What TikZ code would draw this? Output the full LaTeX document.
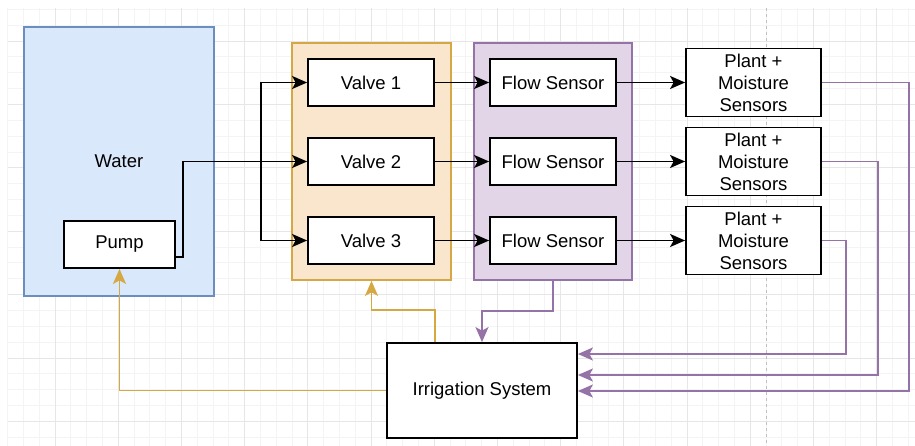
\documentclass[tikz,border=0pt]{standalone}
\usepackage{fontspec}
\setmainfont{Liberation Sans}
\usetikzlibrary{arrows.meta}
\definecolor{bluefill}{HTML}{DAE8FC}
\definecolor{bluedraw}{HTML}{6C8EBF}
\definecolor{orfill}{HTML}{FAE6CD}
\definecolor{ordraw}{HTML}{D6A843}
\definecolor{pufill}{HTML}{E1D5E7}
\definecolor{pudraw}{HTML}{9673A6}
\definecolor{gridminor}{HTML}{F4F4F4}
\definecolor{gridmajor}{HTML}{E6E6E6}
\tikzset{
  box/.style={draw=black, fill=white, line width=1.8pt, inner sep=0pt, align=center},
  container/.style={line width=1.7pt, inner sep=0pt},
  tip/.style={-{Stealth[length=15pt,width=13pt,inset=3.5pt]}},
  conn/.style={tip, line width=1.8pt, draw=black},
  pconn/.style={tip, line width=1.8pt, draw=pudraw},
  oconn/.style={tip, line width=1.8pt, draw=ordraw},
}
\begin{document}
\begin{tikzpicture}[x=1pt,y=-1pt,font=\fontsize{18.5}{22}\selectfont]
\useasboundingbox (0,0) rectangle (915,446);
% grid
\foreach \i in {0,...,57} {\draw[gridminor, line width=0.8pt] ({7.6+15.8*\i},8) -- ({7.6+15.8*\i},446);}
\foreach \j in {0,...,27} {\draw[gridminor, line width=0.8pt] (8,{9.3+15.85*\j}) -- (915,{9.3+15.85*\j});}
\foreach \i in {0,...,13} {\draw[gridmajor, line width=0.8pt] ({55+63.2*\i},8) -- ({55+63.2*\i},446);}
\foreach \j in {0,...,6} {\draw[gridmajor, line width=0.8pt] (8,{41+63.4*\j}) -- (915,{41+63.4*\j});}
\draw[gray!50, dashed, line width=0.8pt] (766,8) -- (766,446);
% containers
\node[container, fill=bluefill, draw=bluedraw, minimum width=190pt, minimum height=269pt] (water) at (119,161.5) {Water};
\node[container, fill=orfill, draw=ordraw, minimum width=159pt, minimum height=237pt] (valves) at (371.5,161.5) {};
\node[container, fill=pufill, draw=pudraw, minimum width=158pt, minimum height=237pt] (flows) at (553,161.5) {};
% boxes
\node[box, minimum width=111pt, minimum height=47pt] (pump) at (119.5,244.5) {Pump};
\node[box, minimum width=126pt, minimum height=47pt] (v1) at (371,82.5) {Valve 1};
\node[box, minimum width=126pt, minimum height=47pt] (v2) at (371,161.5) {Valve 2};
\node[box, minimum width=126pt, minimum height=47pt] (v3) at (371,240.5) {Valve 3};
\node[box, minimum width=126pt, minimum height=47pt] (f1) at (553,82.5) {Flow Sensor};
\node[box, minimum width=126pt, minimum height=47pt] (f2) at (553,161.5) {Flow Sensor};
\node[box, minimum width=126pt, minimum height=47pt] (f3) at (553,240.5) {Flow Sensor};
\node[box, minimum width=135pt, minimum height=68pt] (p1) at (753.5,82.5) {Plant +\\Moisture\\Sensors};
\node[box, minimum width=135pt, minimum height=68pt] (p2) at (753.5,161.5) {Plant +\\Moisture\\Sensors};
\node[box, minimum width=135pt, minimum height=68pt] (p3) at (753.5,240.5) {Plant +\\Moisture\\Sensors};
\node[box, minimum width=190pt, minimum height=95pt] (irr) at (482,390.5) {Irrigation System};
% pump to valves
\coordinate (split) at (261,161.5);
\draw[conn] ([yshift=-12.5pt]pump.east) -- ++(7,0) |- (v2.west);
\draw[conn] (split) |- (v1.west);
\draw[conn] (split) |- (v3.west);
% valves to flow sensors to plants
\foreach \k in {1,2,3} {
  \draw[conn] (v\k.east) -- (f\k.west);
  \draw[conn] (f\k.east) -- (p\k.west);
}
% feedback to irrigation
\draw[pconn] (flows.south) -- ++(0,30.5) -| (irr.north);
\draw[pconn] (p1.east) -- ++(87,0) |- ([yshift=-0.5pt]irr.east);
\draw[pconn] (p2.east) -- ++(56,0) |- ([yshift=15.5pt]irr.east);
\draw[pconn] (p3.east) -- ++(24,0) |- ([yshift=36.5pt]irr.east);
% control from irrigation
\draw[oconn] ([xshift=-47pt]irr.north) -- ++(0,-32) -| (valves.south);
\draw[oconn] (irr.west) -| (pump.south);
\end{tikzpicture}
\end{document}
